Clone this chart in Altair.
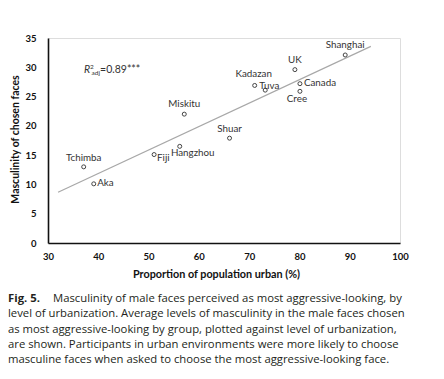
import altair as alt
import pandas as pd

# ---- data ----
groups = ["Tchimba", "Aka", "Fiji", "Hangzhou", "Miskitu", "Shuar",
          "Kadazan", "Tuva", "UK", "Canada", "Cree", "Shanghai"]
urban = [37.1, 39.1, 51.1, 56.2, 57.1, 66.1, 71.1, 73.2, 79.1, 80.1, 80.1, 89.1]
masculinity = [13.0, 10.1, 15.1, 16.5, 22.0, 17.9, 26.9, 26.1, 29.6, 27.2, 25.9, 32.1]

x_ticks = [30, 40, 50, 60, 70, 80, 90, 100]
y_ticks = [0, 5, 10, 15, 20, 25, 30, 35]
fit_extent = [32, 94.2]

caption_bold = "Fig. 5."
caption_line1 = "Masculinity of male faces perceived as most aggressive-looking, by"
caption_rest = [
    "level of urbanization. Average levels of masculinity in the male faces chosen",
    "as most aggressive-looking by group, plotted against level of urbanization,",
    "are shown. Participants in urban environments were more likely to choose",
    "masculine faces when asked to choose the most aggressive-looking face.",
]

# label placement (dx, dy, align) -- style, not data
label_place = {
    "Tchimba": (0, -9, "center"),
    "Aka": (3.5, -1, "left"),
    "Fiji": (3, 3, "left"),
    "Hangzhou": (13, 7, "center"),
    "Miskitu": (0, -10, "center"),
    "Shuar": (0, -9.5, "center"),
    "Kadazan": (-1, -11, "center"),
    "Tuva": (4, -4.5, "center"),
    "UK": (0, -10, "center"),
    "Canada": (4, -0.5, "left"),
    "Cree": (-3, 8, "center"),
    "Shanghai": (0, -10, "center"),
}

df = pd.DataFrame({"group": groups, "urban": urban, "masc": masculinity})

FONT = "Lato"
CAP_FONT = "Open Sans"
W, H = 352, 205

xs = alt.Scale(domain=[30, 100], nice=False, zero=False)
ys = alt.Scale(domain=[0, 35], nice=False)

x_axis = alt.Axis(values=x_ticks, grid=False, ticks=False, tickSize=0,
                  labelOverlap=False, labelFlush=False,
                  domainColor="#111", domainWidth=1.6, labelPadding=8,
                  labelFont=FONT, labelFontSize=9.5, labelFontWeight="bold",
                  labelColor="#111", title="Proportion of population urban (%)",
                  titleFont=FONT, titleFontSize=10.8, titleFontWeight="bold",
                  titleColor="#111", titlePadding=8, titleX=168)
y_axis = alt.Axis(values=y_ticks, grid=False, ticks=False, tickSize=0,
                  labelOverlap=False, labelFlush=False,
                  domainColor="#111", domainWidth=1.6, labelPadding=12,
                  labelFont=FONT, labelFontSize=9.5, labelFontWeight="bold",
                  labelColor="#111", title="Masculinity of chosen faces",
                  titleFont=FONT, titleFontSize=10.5, titleFontWeight="bold",
                  titleColor="#111", titleX=-33, titleY=101,
                  titleBaseline="middle", titleAlign="center", titleAngle=270)

X = alt.X("urban:Q", scale=xs, axis=x_axis)
Y = alt.Y("masc:Q", scale=ys, axis=y_axis)

base = alt.Chart(df)

points = base.mark_point(shape="circle", size=16, filled=False,
                         color="#444", strokeWidth=1, opacity=1).encode(x=X, y=Y)

fit = base.transform_regression("urban", "masc", extent=fit_extent).mark_line(
    color="#a8a8a8", strokeWidth=1.2).encode(x=X, y=Y)

label_layers = []
for g in groups:
    dx, dy, al = label_place[g]
    label_layers.append(
        base.transform_filter(alt.datum.group == g).mark_text(
            font=FONT, fontSize=9.8, color="#333", dx=dx, dy=dy, align=al,
            baseline="middle").encode(x=X, y=Y, text="group:N")
    )

ann = pd.DataFrame({"urban": [37.17], "masc": [29.6]})
ann_base = alt.Chart(ann).encode(x=X, y=Y)
ann_layers = [
    ann_base.mark_text(text="R", font=FONT, fontSize=10.5, fontStyle="italic",
                       color="#333", align="left", baseline="middle"),
    ann_base.mark_text(text="2", font=FONT, fontSize=6.5, color="#333",
                       align="left", baseline="middle", dx=6, dy=-3),
    ann_base.mark_text(text="adj", font=FONT, fontSize=6.5, color="#333",
                       align="left", baseline="middle", dx=7.5, dy=3.5),
    ann_base.mark_text(text="=0.89***", font=FONT, fontSize=10.5, color="#333",
                       align="left", baseline="middle", dx=16),
]

cap_src = alt.Chart(pd.DataFrame({"k": [0]}))
CAP_SIZE = 11.3
caption = [
    cap_src.mark_text(text=caption_bold, font=CAP_FONT, fontSize=CAP_SIZE,
                      fontWeight="bold", color="#231f20", align="left",
                      baseline="middle").encode(x=alt.value(-40), y=alt.value(261)),
    cap_src.mark_text(text=caption_line1, font=CAP_FONT, fontSize=CAP_SIZE,
                      color="#231f20", align="left",
                      baseline="middle").encode(x=alt.value(5), y=alt.value(261)),
    cap_src.mark_text(text=caption_rest, font=CAP_FONT, fontSize=CAP_SIZE,
                      lineHeight=15.3, color="#231f20", align="left",
                      baseline="middle").encode(x=alt.value(-40), y=alt.value(276.3)),
]

chart = alt.layer(fit, points, *label_layers, *ann_layers, *caption).properties(
    width=W, height=H,
    autosize=alt.AutoSizeParams(type="none"),
    padding={"left": 40, "top": 30, "right": 36, "bottom": 133},
).configure_view(stroke=None).configure_axisY(labelOverlap=False
).configure(background="white")

chart.save("out.html", embed_options={"renderer": "svg", "actions": False})
